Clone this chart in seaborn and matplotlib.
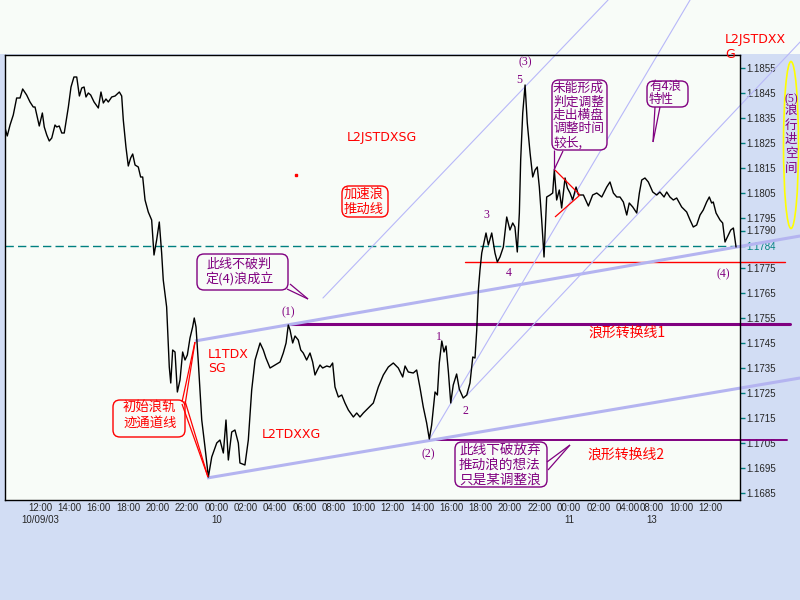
import matplotlib
matplotlib.use("Agg")
import matplotlib.pyplot as plt
import seaborn as sns
import pandas as pd
from matplotlib.patches import FancyBboxPatch, Ellipse, Rectangle

# ---------------- data ----------------
hours = [-2.38,-2.23,-2.04,-1.82,-1.59,-1.36,-1.18,-0.91,-0.68,-0.46,
         -0.34,-0.05,0.16,0.29,0.46,0.63,0.80,1.02,1.14,1.31,
         1.48,1.65,1.93,2.11,2.31,2.50,2.68,2.84,3.00,3.13,
         3.29,3.45,3.68,3.97,4.15,4.31,4.49,4.65,4.88,5.11,
         5.40,5.56,5.67,5.85,6.01,6.17,6.31,6.47,6.69,6.85,
         6.99,7.15,7.37,7.60,7.76,7.94,8.12,8.28,8.39,
         8.62,8.80,8.90,9.03,9.19,9.35,9.53,9.71,9.87,10.03,
         10.21,10.39,10.50,10.62,10.78,11.01,11.23,11.46,11.69,12.03,
         12.25,12.48,12.66,12.82,13.05,13.27,13.50,13.61,13.95,14.18,
         14.41,14.64,14.98,15.20,15.38,15.66,16.00,16.34,16.56,16.75,
         16.90,17.02,17.20,17.36,17.58,17.75,17.92,18.15,18.38,18.56,
         18.72,18.88,19.06,19.24,19.52,19.74,19.92,20.08,20.31,20.54,
         20.76,20.99,21.33,21.56,21.78,22.01,22.35,22.69,23.03,23.37,
         23.71,24.05,24.39,24.69,24.85,25.07,25.41,25.64,25.87,26.09,
         26.32,26.50,26.66,26.89,27.05,27.18,27.35,27.50,27.64,27.80,
         27.96,28.13,28.36,28.54,28.81,29.05,29.27,29.46,29.61,29.73,
         29.84,29.95,
         30.07,30.36,30.52,30.75,30.97,31.13,31.31,31.54,31.77,31.99,
         32.18,32.33,32.49,32.63,32.72,32.86,33.02,33.17,33.36,33.54,
         33.70,33.85,33.99,34.15,34.31,34.49,34.72,34.90,35.01,35.17,
         35.35,35.51,35.74,35.90,36.08,36.26,36.49,36.65,36.99,37.33,
         37.62,37.90,38.24,38.58,38.80,39.03,39.26,39.48,39.71,39.94,
         40.11,40.35,40.62,40.80,40.96,41.18,41.41,41.71,41.98,42.20,
         42.48,42.66,42.88,43.11,43.34,43.68,44.02,44.25,44.47,44.70,
         44.93,45.15,45.38,45.56,45.72,45.83,46.02,46.29,46.47,46.63,
         46.79,47.02,47.20,47.38]

prices = [1.1831,1.18278,1.18322,1.18362,1.1843,1.1843,1.18466,1.18442,1.18414,1.18394,
          1.18394,1.18318,1.1837,1.18314,1.18282,1.18258,1.1827,1.18322,1.18314,1.18318,
          1.1829,1.1829,1.18394,1.18474,1.18514,1.18514,1.18438,1.1847,1.18474,1.18434,
          1.1845,1.18442,1.18414,1.1839,1.18454,1.1841,1.18426,1.18414,1.18434,1.18438,
          1.18454,1.18438,1.18342,1.18234,1.18158,1.1819,1.18206,1.18162,1.18154,1.18114,
          1.18114,1.18022,1.17974,1.17942,1.17802,1.17862,1.17934,1.1781,1.17702,
          1.17594,1.17354,1.1729,1.17422,1.17414,1.17254,1.17302,1.17414,1.17382,1.17402,
          1.1747,1.17514,1.1755,1.17514,1.1737,1.17142,1.17034,1.16914,1.16994,1.1705,
          1.17062,1.1701,1.17142,1.16982,1.17094,1.17102,1.1705,1.1697,1.16962,1.17062,
          1.17262,1.17382,1.1745,1.17422,1.1739,1.1735,1.17362,1.17374,1.1741,1.1745,
          1.17522,1.17502,1.1745,1.17478,1.17462,1.17422,1.1741,1.17382,1.1741,1.17374,
          1.17322,1.17342,1.17362,1.1735,1.17358,1.17354,1.1737,1.17274,1.17234,1.17242,
          1.1721,1.17182,1.17154,1.1717,1.17154,1.1717,1.1719,1.1721,1.17274,1.17322,
          1.17354,1.1737,1.1735,1.17314,1.17358,1.17334,1.1733,1.17342,1.1727,1.17194,
          1.1713,1.17066,1.17122,1.17254,1.17242,1.1737,1.17458,1.17414,1.17438,1.17334,
          1.1721,1.17282,1.17326,1.17266,1.1723,1.17242,1.1729,1.17394,1.1739,1.17502,
          1.17662,1.17742,
          1.1781,1.1789,1.17842,1.1789,1.1781,1.17774,1.17794,1.17834,1.17954,1.17902,
          1.1793,1.17914,1.17814,1.1797,1.18182,1.1837,1.18482,1.1833,1.1821,1.18114,
          1.18142,1.18154,1.18074,1.17942,1.17794,1.18034,1.18042,1.1805,1.18142,1.18022,
          1.18062,1.1799,1.1811,1.1807,1.1805,1.18022,1.18074,1.18042,1.18042,1.17998,
          1.18042,1.1805,1.18034,1.18074,1.18094,1.1805,1.18034,1.18034,1.18014,1.17962,
          1.1801,1.17994,1.1797,1.1805,1.18102,1.1811,1.18094,1.18054,1.18042,1.18054,
          1.18034,1.18054,1.18034,1.18022,1.1803,1.17994,1.17974,1.17942,1.17914,1.17922,
          1.17962,1.17982,1.18014,1.18034,1.1801,1.18014,1.1797,1.17942,1.1793,1.17854,
          1.17874,1.17902,1.1791,1.17834]

xtick_hours = [0, 2, 4, 6, 8, 10, 12, 14, 16, 18, 20, 22, 24, 26, 28, 30, 32, 34, 36,
               38, 40, 41.65, 43.65, 45.65]
xtick_labels = ["12:00\n10/09/03", "14:00", "16:00", "18:00", "20:00", "22:00",
                "00:00\n10", "02:00", "04:00", "06:00", "08:00", "10:00", "12:00",
                "14:00", "16:00", "18:00", "20:00", "22:00", "00:00\n11", "02:00",
                "04:00", "08:00\n13", "10:00", "12:00"]
ytick_values = [1.1685, 1.1695, 1.1705, 1.1715, 1.1725, 1.1735, 1.1745, 1.1755, 1.1765,
                1.1775, 1.1784, 1.1790, 1.1795, 1.1805, 1.1815, 1.1825, 1.1835, 1.1845,
                1.1855]

support_price = 1.1784
red_line_price = 1.17774
red_line_span = [28.93, 50.71]
turn1_price = 1.17526
turn1_span = [17.02, 51.06]
turn2_price = 1.17062
turn2_span = [26.55, 50.85]

chan_low_h = [11.37, 51.74]
chan_low_p = [1.16910, 1.17310]
chan_up_h = [10.55, 51.74]
chan_up_p = [1.17458, 1.17878]
fan_a_h = [19.26, 38.67]
fan_a_p = [1.17630, 1.18822]
fan_b_h = [26.48, 44.25]
fan_b_p = [1.17062, 1.18822]
fan_c_h = [29.07, 51.74]
fan_c_p = [1.17242, 1.18654]

# ---------------- style ----------------
sns.set_theme(style="white")
plt.rcParams['font.family'] = ['DejaVu Sans', 'Noto Sans CJK SC']

PURPLE = '#800080'
RED = '#FF0000'
TEAL = '#008080'
LAV = '#B4B4F0'
LAV_THIN = '#B8B8F8'
BG = '#F8FCF8'
CJK = ['Noto Sans CJK SC', 'DejaVu Sans']

fig = plt.figure(figsize=(8, 6), dpi=100)
fig.patch.set_facecolor('#D2DDF4')
fig.add_artist(Rectangle((0, 1 - 54 / 600), 1, 54 / 600, transform=fig.transFigure,
                         facecolor=BG, edgecolor='none', zorder=0))

ax = fig.add_axes([4.5 / 800, 100 / 600, 735.5 / 800, 445.5 / 600])
ax.set_facecolor(BG)

df = pd.DataFrame({'hour': hours, 'price': prices})

# reference lines
ax.axhline(support_price, color=TEAL, lw=1.0, ls=(0, (6, 3)), zorder=2)
ax.plot(red_line_span, [red_line_price] * 2, color=RED, lw=1.0, clip_on=False, zorder=2)
ax.plot(turn1_span, [turn1_price] * 2, color=PURPLE, lw=2.2, clip_on=False, zorder=2)
ax.plot(turn2_span, [turn2_price] * 2, color=PURPLE, lw=1.4, clip_on=False, zorder=2)

for hh, pp in [(chan_low_h, chan_low_p), (chan_up_h, chan_up_p)]:
    ax.plot(hh, pp, color=LAV, lw=2.2, clip_on=False, zorder=2, solid_capstyle='butt')
for hh, pp in [(fan_a_h, fan_a_p), (fan_b_h, fan_b_p), (fan_c_h, fan_c_p)]:
    ax.plot(hh, pp, color=LAV_THIN, lw=0.8, clip_on=False, zorder=2)

sns.lineplot(data=df, x='hour', y='price', ax=ax, color='black', linewidth=1.0,
             sort=False, estimator=None, zorder=3)

ax.set_xlim(-2.417, 47.65)
ax.set_ylim(1.16822, 1.18604)
ax.set_xlabel('')
ax.set_ylabel('')
for s in ax.spines.values():
    s.set_color('black')
    s.set_linewidth(1.0)

ax.set_xticks(xtick_hours)
ax.set_xticklabels(xtick_labels, fontsize=7, family='Liberation Sans', linespacing=1.2)
ax.yaxis.tick_right()
ax.set_yticks(ytick_values)
ax.set_yticklabels([f'{v:.4f}' for v in ytick_values], fontsize=7, family='Liberation Sans')
ax.tick_params(axis='x', direction='out', length=2.5, width=1, color=TEAL, pad=0)
ax.tick_params(axis='y', direction='out', length=3.5, width=1, color=TEAL, pad=1)
for lab, v in zip(ax.get_yticklabels(), ytick_values):
    if abs(v - support_price) < 1e-7:
        lab.set_color(TEAL)

# ---------------- annotation overlay (pixel layout) ----------------
ov = fig.add_axes([0, 0, 1, 1], zorder=5)
ov.set_xlim(0, 800)
ov.set_ylim(600, 0)
ov.axis('off')


def box(x, y, w, h, ec):
    ov.add_patch(FancyBboxPatch((x, y), w, h, boxstyle='round,pad=0,rounding_size=7',
                                ec=ec, fc=BG, lw=1.0))


def block(x, yc, text, color, size, ls):
    ov.text(x, yc, text, color=color, fontsize=size, family=CJK, ha='left', va='center',
            multialignment='left', linespacing=ls)


def seg(pts, color, lw=0.9):
    xs, ys = zip(*pts)
    ov.plot(xs, ys, color=color, lw=lw, solid_capstyle='butt')


# callout: 此线不破判定(4)浪成立
box(197, 254, 91, 36, PURPLE)
block(206, 271.5, '此线不破判\n定(4)浪成立', PURPLE, 9.4, 1.08)
seg([(290, 284), (308, 299)], PURPLE)
seg([(287, 289), (308, 299)], PURPLE)

# callout: 未能形成...
box(552, 80, 55, 70, PURPLE)
block(553, 115.5, '未能形成\n判定调整\n走出横盘\n调整时间\n较长,', PURPLE, 9.2, 1.05)
seg([(554, 150), (554, 170)], PURPLE)
seg([(563, 151), (554, 170)], PURPLE)

# callout: 有4浪特性
box(647, 81, 41, 26, PURPLE)
block(649, 93, '有4浪\n特性', PURPLE, 9.0, 1.05)
seg([(655, 107), (653, 142)], PURPLE)
seg([(660, 107), (653, 142)], PURPLE)

# callout: 此线下破...
box(455, 442, 92, 45, PURPLE)
block(459, 464.5, '此线下破放弃\n推动浪的想法\n只是某调整浪', PURPLE, 9.8, 1.08)
seg([(547, 462), (570, 445)], PURPLE)
seg([(548, 470), (570, 445)], PURPLE)

# red callout: 加速浪推动线
box(342, 186, 46, 31, RED)
block(344, 201.5, '加速浪\n推动线', RED, 9.6, 1.05)

# red callout: 初始浪轨迹通道线
box(113, 400, 72, 37, RED)
block(123, 415, '初始浪轨\n迹通道线', RED, 9.6, 1.2)
seg([(182, 402), (195, 342)], RED)
seg([(185, 405), (195, 342)], RED)
seg([(182, 404), (208, 477)], RED)
seg([(185, 401), (208, 477)], RED)

# red converging wedge
seg([(555, 170), (580, 195)], RED)
seg([(555, 217), (580, 195)], RED)

# red labels
ov.text(347, 138, 'L2JSTDXSG', color=RED, fontsize=9, ha='left', va='center')
ov.text(725, 40, 'L2JSTDXX', color=RED, fontsize=9, ha='left', va='center')
ov.text(725, 55, 'G', color=RED, fontsize=9, ha='left', va='center')
ov.text(208, 348, 'L1TDX\nSG', color=RED, fontsize=9, ha='left', va='top', linespacing=1.05)
ov.text(262, 434, 'L2TDXXG', color=RED, fontsize=9, ha='left', va='center')
ov.plot([296], [175], marker='s', ms=2, color=RED)
ov.text(588, 333, '浪形转换线1', color=RED, fontsize=10, family=CJK, ha='left', va='center')
ov.text(587, 455, '浪形转换线2', color=RED, fontsize=10, family=CJK, ha='left', va='center')

# wave labels
for t, x, y in [('(1)', 288, 312), ('(2)', 428, 454), ('(3)', 525, 62), ('5', 519, 80),
                ('3', 486, 215), ('4', 509, 273), ('(4)', 723, 274), ('1', 439, 337),
                ('2', 465, 411)]:
    ov.text(x, y, t, color=PURPLE, fontsize=8.5, family='Liberation Serif',
            ha='center', va='center')

# right margin: (5)浪行进空间
ov.add_patch(Ellipse((791, 145), 15, 167, fill=False, ec='#FFFF00', lw=1.2))
ov.text(791, 99, '(5)', color=PURPLE, fontsize=8.5, family='Liberation Serif',
        ha='center', va='center')
ov.text(791, 139.5, '浪\n行\n进\n空\n间', color=PURPLE, fontsize=9, family=CJK,
        ha='center', va='center', linespacing=1.15)

fig.savefig('out.png', dpi=100, facecolor=fig.get_facecolor())
